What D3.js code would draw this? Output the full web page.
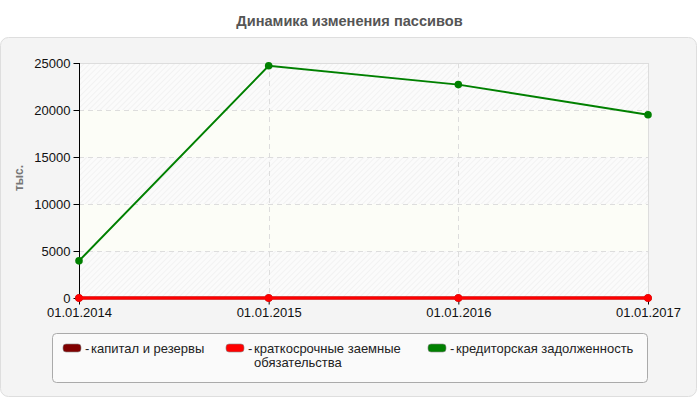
<!DOCTYPE html>
<html>
<head>
<meta charset="utf-8">
<script src="https://cdn.jsdelivr.net/npm/d3@7"></script>
<style>
  body { margin: 0; background: #fff; font-family: "Liberation Sans", Arial, sans-serif; }
</style>
</head>
<body>
<div id="chart"></div>
<script>
// chart data
var dates = ["01.01.2014", "01.01.2015", "01.01.2016", "01.01.2017"];
var seriesNames = ["капитал и резервы", "краткосрочные заемные обязательства", "кредиторская задолженность"];
var seriesColors = ["#800000", "#ff0000", "#008000"];
var capital = [0, 0, 0, 0];
var shortLoans = [0, 0, 0, 0];
var payables = [3950, 24700, 22700, 19500];
var yTicks = [0, 5000, 10000, 15000, 20000, 25000];

var width = 700, height = 400;
var plotLeft = 79, plotRight = 648, plotTop = 63, plotBottom = 298;

var svg = d3.select("#chart").append("svg")
    .attr("width", width)
    .attr("height", height);

var defs = svg.append("defs");
var hatch = defs.append("pattern")
    .attr("id", "hatch")
    .attr("patternUnits", "userSpaceOnUse")
    .attr("width", 4)
    .attr("height", 4)
    .attr("patternTransform", "rotate(45)");
hatch.append("rect").attr("width", 4).attr("height", 4).attr("fill", "#fbfbfb");
hatch.append("line")
    .attr("x1", 0).attr("y1", 0).attr("x2", 0).attr("y2", 4)
    .attr("stroke", "#ececec").attr("stroke-width", 1.2);

// title
svg.append("text")
    .attr("x", 349.5)
    .attr("y", 26)
    .attr("text-anchor", "middle")
    .style("font-size", "14.6px")
    .style("font-weight", "bold")
    .style("fill", "#555")
    .text("Динамика изменения пассивов");

// outer panel
svg.append("rect")
    .attr("x", 0.5).attr("y", 37.5)
    .attr("width", 696).attr("height", 359)
    .attr("rx", 8)
    .attr("fill", "#f4f4f4")
    .attr("stroke", "#dedede");

var x = d3.scalePoint()
    .domain(dates)
    .range([plotLeft, plotRight]);

var y = d3.scaleLinear()
    .domain([0, 25000])
    .range([plotBottom, plotTop]);

// background bands
var bands = d3.pairs(yTicks);
svg.selectAll(".band")
    .data(bands)
    .enter().append("rect")
    .attr("class", "band")
    .attr("x", plotLeft)
    .attr("width", plotRight - plotLeft)
    .attr("y", function (d) { return y(d[1]); })
    .attr("height", function (d) { return y(d[0]) - y(d[1]); })
    .attr("fill", function (d, i) { return i % 2 == 0 ? "url(#hatch)" : "#fcfdf7"; });

// grid
svg.selectAll(".hgrid")
    .data(yTicks.slice(1))
    .enter().append("line")
    .attr("x1", plotLeft).attr("x2", plotRight)
    .attr("y1", function (d) { return Math.round(y(d)) + 0.5; })
    .attr("y2", function (d) { return Math.round(y(d)) + 0.5; })
    .attr("stroke", "#dddddd")
    .attr("stroke-dasharray", function (d) { return d == 25000 ? null : "5,4"; });

svg.selectAll(".vgrid")
    .data(dates.slice(1))
    .enter().append("line")
    .attr("y1", plotTop).attr("y2", plotBottom)
    .attr("x1", function (d) { return Math.round(x(d)) + 0.5; })
    .attr("x2", function (d) { return Math.round(x(d)) + 0.5; })
    .attr("stroke", "#dddddd")
    .attr("stroke-dasharray", function (d, i) { return i == dates.length - 2 ? null : "5,4"; });

// axes
var yAxis = svg.append("g")
    .attr("transform", "translate(" + (plotLeft + 0.5) + ",0)")
    .call(d3.axisLeft(y).tickValues(yTicks).tickSize(6).tickPadding(3).tickFormat(d3.format("d")));
yAxis.selectAll("text").style("font-size", "13px").style("fill", "#111").attr("font-family", "Liberation Sans, Arial, sans-serif");
yAxis.select(".domain").attr("d", "M0," + plotTop + "V" + plotBottom);

var xAxis = svg.append("g")
    .attr("transform", "translate(0," + (plotBottom + 0.5) + ")")
    .call(d3.axisBottom(x).tickSize(6).tickPadding(3));
xAxis.selectAll("text").style("font-size", "13px").style("fill", "#111").attr("font-family", "Liberation Sans, Arial, sans-serif");
xAxis.select(".domain").remove();

// y label
svg.append("text")
    .attr("transform", "translate(23," + 178 + ") rotate(-90)")
    .attr("text-anchor", "middle")
    .style("font-size", "12px")
    .style("font-weight", "bold")
    .style("fill", "#777")
    .text("тыс.");

// lines
var series = [capital, shortLoans, payables];
var widths = [3, 3, 2];
var line = d3.line()
    .x(function (d, i) { return x(dates[i]); })
    .y(function (d) { return y(d); });

series.forEach(function (s, k) {
    svg.append("path")
        .datum(s)
        .attr("d", line)
        .attr("fill", "none")
        .attr("stroke", seriesColors[k])
        .attr("stroke-width", widths[k]);
    svg.selectAll(".pt" + k)
        .data(s)
        .enter().append("circle")
        .attr("cx", function (d, i) { return x(dates[i]); })
        .attr("cy", function (d) { return y(d); })
        .attr("r", 3.8)
        .attr("fill", seriesColors[k]);
});

// legend
svg.append("rect")
    .attr("x", 52.5).attr("y", 333.5)
    .attr("width", 595).attr("height", 49)
    .attr("rx", 4)
    .attr("fill", "#fafafa")
    .attr("stroke", "#aaaaaa");

var legendX = [63, 226, 428];
var legendLines = [["капитал и резервы"], ["краткосрочные заемные", "обязательства"], ["кредиторская задолженность"]];
var legend = svg.selectAll(".legend")
    .data(seriesNames)
    .enter().append("g")
    .attr("class", "legend")
    .attr("transform", function (d, i) { return "translate(" + legendX[i] + ",344)"; });
legend.append("rect")
    .attr("width", 18).attr("height", 8)
    .attr("rx", 3)
    .attr("fill", function (d, i) { return seriesColors[i]; })
    .attr("stroke", "#888")
    .attr("stroke-width", 0.6);
legend.append("text")
    .attr("x", 22).attr("y", 9)
    .style("font-size", "13px")
    .style("fill", "#222")
    .text("-");
legend.each(function (d, i) {
    var t = d3.select(this).append("text")
        .attr("x", 28).attr("y", 9)
        .style("font-size", "13px")
        .style("fill", "#222");
    legendLines[i].forEach(function (l, j) {
        t.append("tspan").attr("x", 28).attr("dy", j == 0 ? 0 : 14).text(l);
    });
});
</script>
</body>
</html>
